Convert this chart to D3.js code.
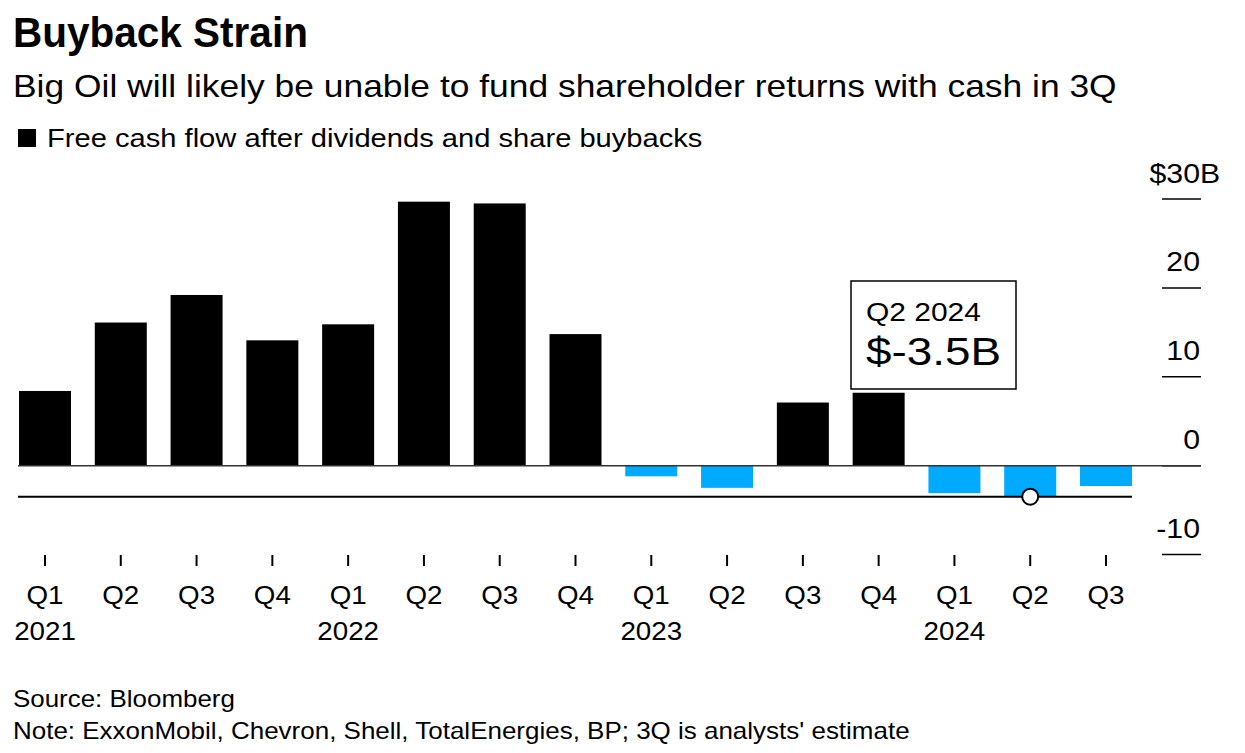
<!DOCTYPE html>
<html>
<head>
<meta charset="utf-8">
<script src="https://cdn.jsdelivr.net/npm/d3@7"></script>
<style>
  html, body { margin: 0; padding: 0; background: #fff; }
  svg { display: block; font-family: "Liberation Sans", Arial, Helvetica, sans-serif; }
</style>
</head>
<body>
<svg id="chart" width="1245" height="753"></svg>
<script>
// ---- data ----
const quarters = ["Q1","Q2","Q3","Q4","Q1","Q2","Q3","Q4","Q1","Q2","Q3","Q4","Q1","Q2","Q3"];
const years    = ["2021","","","","2022","","","","2023","","","","2024","",""];
const values   = [8.4, 16.1, 19.2, 14.1, 15.9, 29.7, 29.5, 14.8, -1.2, -2.5, 7.1, 8.2, -3.1, -3.5, -2.3];
const yTicks   = [-10, 0, 10, 20, 30];
const highlightIndex = 13;
const highlightYear = "2024";
const titleText = "Buyback Strain";
const subtitleText = "Big Oil will likely be unable to fund shareholder returns with cash in 3Q";
const legendText = "Free cash flow after dividends and share buybacks";
const sourceText = "Source: Bloomberg";
const noteText = "Note: ExxonMobil, Chevron, Shell, TotalEnergies, BP; 3Q is analysts' estimate";

const svg = d3.select("#chart");
const keys = values.map((d, i) => i);

const x = d3.scaleBand().domain(keys).range([7, 7 + 15 * 75.8]).paddingInner(23.8/75.8).paddingOuter(12/75.8);
const y = d3.scaleLinear().domain([-10, 30]).range([554.5, 199]);

// helper: text with horizontal stretch (sx) or fitted to a target width
function addText(parent, str, px, py, size, opts = {}) {
  const t = parent.append("text")
    .attr("font-size", size)
    .attr("fill", "#000")
    .attr("text-anchor", opts.anchor || "start")
    .text(str);
  if (opts.weight) t.attr("font-weight", opts.weight);
  let sx = opts.sx || 1;
  if (opts.width) {
    const w = t.node().getComputedTextLength();
    sx = opts.width / w;
  }
  t.attr("transform", `translate(${px},${py}) scale(${sx},1)`);
  return t;
}

// titles
addText(svg, titleText, 13, 47, 42, { weight: "bold", width: 295 });
addText(svg, subtitleText, 13, 97, 32, { width: 1104 });
svg.append("rect").attr("x", 18).attr("y", 129).attr("width", 18).attr("height", 18).attr("fill", "#000");
addText(svg, legendText, 47, 147, 25, { width: 656 });

// y axis ticks (right side)
const yg = svg.append("g");
const ySx = 1.08;
yTicks.forEach(t => {
  yg.append("line").attr("x1", 1162).attr("x2", 1201).attr("y1", y(t)).attr("y2", y(t))
    .attr("stroke", "#000").attr("stroke-width", 1.5);
  if (t === 30) {
    const tmp = addText(yg, "30", 0, 0, 28);
    const w = tmp.node().getComputedTextLength() * ySx;
    tmp.remove();
    addText(yg, "$", 1200 - w, y(t) - 16, 28, { anchor: "end", sx: ySx });
    addText(yg, "30B", 1200 - w, y(t) - 16, 28, { anchor: "start", sx: ySx });
  } else {
    addText(yg, String(t), 1200, y(t) - 17, 28, { anchor: "end", sx: ySx });
  }
});

// bars
svg.append("g").selectAll("rect").data(values).join("rect")
  .attr("x", (d, i) => x(i))
  .attr("width", x.bandwidth())
  .attr("y", d => y(Math.max(0, d)))
  .attr("height", d => Math.abs(y(d) - y(0)))
  .attr("fill", d => d >= 0 ? "#000" : "#00aaff");

// zero line
svg.append("line").attr("x1", 18).attr("x2", 1201).attr("y1", y(0)).attr("y2", y(0))
  .attr("stroke", "#333").attr("stroke-width", 1.5);

// highlight reference line
const hv = values[highlightIndex];
svg.append("line").attr("x1", 18).attr("x2", x(values.length - 1) + x.bandwidth())
  .attr("y1", y(hv)).attr("y2", y(hv)).attr("stroke", "#000").attr("stroke-width", 2);
svg.append("circle").attr("cx", x(highlightIndex) + x.bandwidth() / 2).attr("cy", y(hv)).attr("r", 8)
  .attr("fill", "#fff").attr("stroke", "#000").attr("stroke-width", 2);

// annotation box
const ag = svg.append("g");
ag.append("rect").attr("x", 851).attr("y", 281).attr("width", 165).attr("height", 108)
  .attr("fill", "#fff").attr("stroke", "#000").attr("stroke-width", 1.5);
addText(ag, quarters[highlightIndex] + " " + highlightYear, 866, 321, 26, { width: 115 });
addText(ag, "$" + hv.toFixed(1) + "B", 866, 365, 38, { width: 135 });

// x axis
const xg = svg.append("g");
const xSx = 1.11;
keys.forEach(i => {
  const cx = x(i) + x.bandwidth() / 2;
  xg.append("line").attr("x1", cx).attr("x2", cx).attr("y1", 555).attr("y2", 566)
    .attr("stroke", "#000").attr("stroke-width", 2);
  addText(xg, quarters[i], cx, 604, 25, { anchor: "middle", sx: xSx });
  if (years[i]) {
    addText(xg, years[i], cx, 640, 25, { anchor: "middle", sx: xSx });
  }
});

// footer
addText(svg, sourceText, 13, 707, 24, { width: 222 });
addText(svg, noteText, 13, 739, 24, { width: 897 });
</script>
</body>
</html>
